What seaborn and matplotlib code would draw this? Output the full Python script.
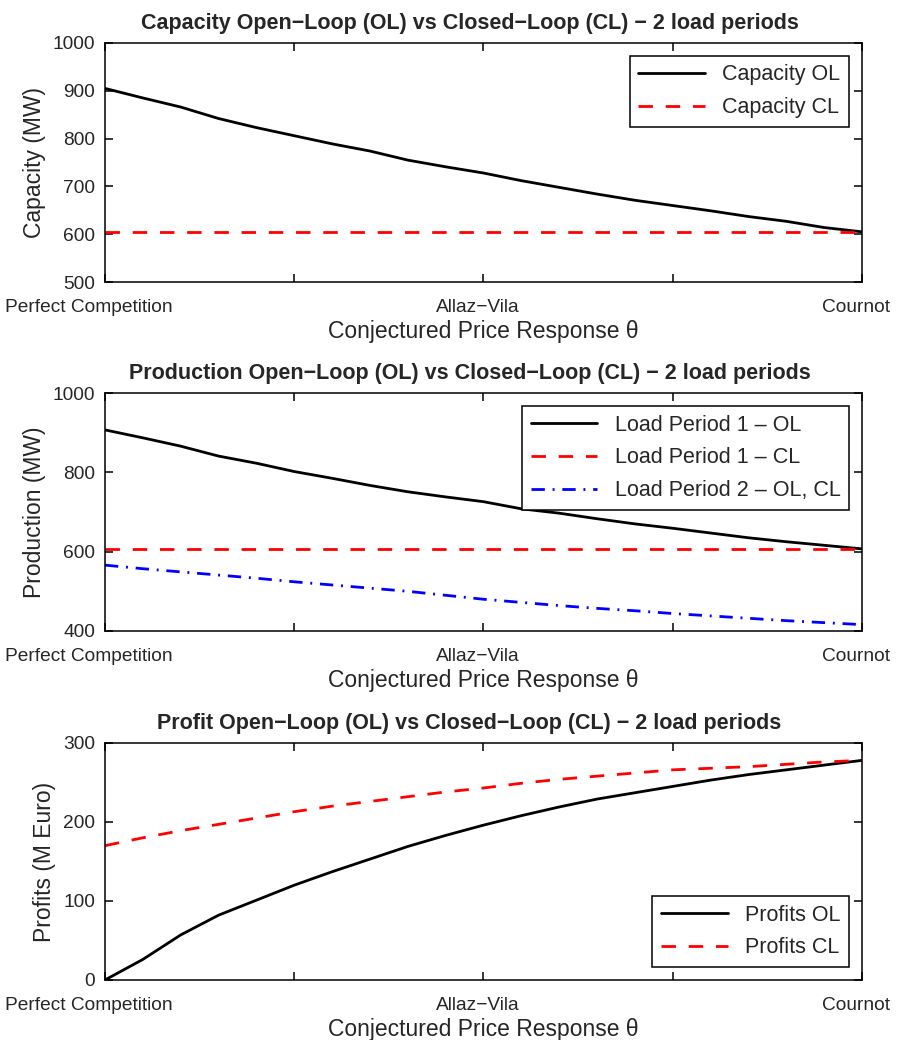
import matplotlib
matplotlib.use("Agg")
import matplotlib.pyplot as plt
import matplotlib.transforms as mtransforms
import seaborn as sns
import pandas as pd

# conjectured price response, 0 = perfect competition, 1 = Cournot
theta = [0.00, 0.05, 0.10, 0.15, 0.20, 0.25, 0.30, 0.35, 0.40, 0.45, 0.50,
         0.55, 0.60, 0.65, 0.70, 0.75, 0.80, 0.85, 0.90, 0.95, 1.00]

capacity_ol = [905, 885, 866, 842, 823, 806, 789, 774, 755, 741, 728,
               712, 698, 684, 671, 660, 649, 637, 627, 614, 605]
capacity_cl = [605] * 21

prod1_ol = [907, 887, 866, 841, 823, 802, 785, 767, 751, 738, 726,
            708, 697, 683, 670, 659, 647, 635, 625, 616, 607]
prod1_cl = [606] * 21
prod2 = [566, 557, 549, 541, 533, 524, 516, 508, 500, 490, 480,
         472, 464, 457, 451, 444, 438, 432, 426, 421, 416]

profit_ol = [0, 26, 57, 82, 101, 120, 137, 153, 169, 183, 196,
             208, 219, 229, 237, 245, 253, 260, 266, 272, 278]
profit_cl = [170, 180, 189, 197, 205, 213, 220, 226, 232, 238, 243,
             249, 254, 258, 262, 266, 268, 270, 273, 276, 278]

x_ticks = [0, 0.25, 0.5, 0.75, 1]
x_ticklabels = ["Perfect Competition", "", "Allaz\u2212Vila", "", "Cournot"]

titles = [
    "Capacity Open\u2212Loop (OL) vs Closed\u2212Loop (CL) \u2212 2 load periods",
    "Production Open\u2212Loop (OL) vs Closed\u2212Loop (CL) \u2212 2 load periods",
    "Profit Open\u2212Loop (OL) vs Closed\u2212Loop (CL) \u2212 2 load periods",
]
y_labels = ["Capacity (MW)", "Production (MW)", "Profits (M Euro)"]

sns.set_style("ticks")
plt.rcParams["font.family"] = ["Liberation Sans", "DejaVu Sans"]
plt.rcParams["xtick.direction"] = "in"
plt.rcParams["ytick.direction"] = "in"
plt.rcParams["xtick.top"] = True
plt.rcParams["ytick.right"] = True
plt.rcParams["axes.linewidth"] = 1.1
plt.rcParams["axes.edgecolor"] = "black"

fig = plt.figure(figsize=(8.97, 10.40), dpi=100)
left, width = 0.117, 0.844
rects = [
    [left, 0.7288, width, 0.2299],
    [left, 0.3933, width, 0.2288],
    [left, 0.0577, width, 0.2279],
]
axes = [fig.add_axes(r) for r in rects]

lw = 2.0
dash = (0, (5.2, 4.6))
dashdot = (0, (4.8, 2.8, 0.7, 2.8))

df1 = pd.DataFrame({"theta": theta, "ol": capacity_ol, "cl": capacity_cl})
sns.lineplot(data=df1, x="theta", y="ol", ax=axes[0], color="black", lw=lw,
             label="Capacity OL")
sns.lineplot(data=df1, x="theta", y="cl", ax=axes[0], color="red", lw=lw,
             linestyle=dash, label="Capacity CL")

df2 = pd.DataFrame({"theta": theta, "p1ol": prod1_ol, "p1cl": prod1_cl, "p2": prod2})
sns.lineplot(data=df2, x="theta", y="p1ol", ax=axes[1], color="black", lw=lw,
             label="Load Period 1 \u2013 OL")
sns.lineplot(data=df2, x="theta", y="p1cl", ax=axes[1], color="red", lw=lw,
             linestyle=dash, label="Load Period 1 \u2013 CL")
sns.lineplot(data=df2, x="theta", y="p2", ax=axes[1], color="blue", lw=lw,
             linestyle=dashdot, label="Load Period 2 \u2013 OL, CL")

df3 = pd.DataFrame({"theta": theta, "ol": profit_ol, "cl": profit_cl})
sns.lineplot(data=df3, x="theta", y="ol", ax=axes[2], color="black", lw=lw,
             label="Profits OL")
sns.lineplot(data=df3, x="theta", y="cl", ax=axes[2], color="red", lw=lw,
             linestyle=dash, label="Profits CL")

ylims = [(500, 1000), (400, 1000), (0, 300)]
yticks = [range(500, 1001, 100), range(400, 1001, 200), range(0, 301, 100)]
legend_locs = ["upper right", "upper right", "lower right"]
# MATLAB puts the x tick labels slightly left of the tick
label_shift = [-16, 0, -6, 0, -6]

for ax, title, ylab, yl, yt, loc in zip(axes, titles, y_labels, ylims, yticks, legend_locs):
    ax.set_xlim(0, 1)
    ax.set_ylim(*yl)
    ax.set_xticks(x_ticks)
    ax.set_xticklabels(x_ticklabels)
    ax.set_yticks(list(yt))
    ax.tick_params(axis="both", labelsize=13.8, length=6, width=1.1, color="black")
    ax.tick_params(axis="x", pad=12)
    ax.tick_params(axis="y", pad=7)
    for lab, dx in zip(ax.get_xticklabels(), label_shift):
        off = mtransforms.ScaledTranslation(dx / 100, 0, fig.dpi_scale_trans)
        lab.set_transform(lab.get_transform() + off)
    t = ax.set_title(title, fontsize=15.5, fontweight="bold", pad=10)
    t.set_x(0.5 - 14 / 757)
    ax.set_xlabel("Conjectured Price Response \u03b8", fontsize=16.5, labelpad=3)
    ax.set_ylabel(ylab, fontsize=16.5, labelpad=5)
    for s in ax.spines.values():
        s.set_visible(True)
        s.set_color("black")
    leg = ax.legend(loc=loc, fontsize=15.5, handlelength=3.1, frameon=True,
                    fancybox=False, edgecolor="black", framealpha=1,
                    borderaxespad=0.6, labelspacing=0.55, handletextpad=0.8,
                    borderpad=0.4)
    leg.get_frame().set_linewidth(1.1)

fig.savefig("out.png", dpi=100)
